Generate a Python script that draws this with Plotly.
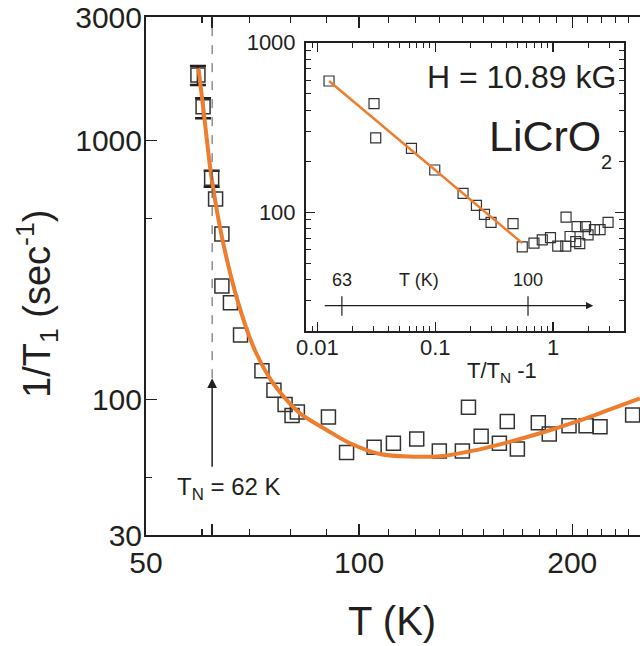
import math
import plotly.graph_objects as go

# ---------------- data ----------------
T_main = [59.2, 60.2, 61.9, 62.7, 64.0, 64.0, 65.8, 68.0, 72.9, 75.8, 78.6, 80.4, 81.8,
          90.5, 96.0, 105.0, 111.8, 120.6, 129.8, 139.9, 142.7, 148.7, 157.8, 161.9,
          167.3, 179.1, 185.6, 197.9, 209.2, 218.9, 243.4]
R_main = [1792, 1351, 715, 595, 436, 274.5, 236.5, 177.5, 129.3, 108.6, 95.7, 86.8, 89.6,
          85.6, 62.4, 65.4, 67.8, 70.4, 63.3, 63.3, 93.4, 72.1, 67.8, 82.3,
          64.5, 81.4, 73.6, 79.2, 79.2, 78.6, 87.2]
err_plus = [148, 106, 50]
err_minus = [153, 132, 51]

T_fit = [59.3, 60.2, 60.8, 61.9, 64.0, 67.2, 70.9, 74.8, 79.0, 82.5, 90.0, 97.1, 107.0,
         119.3, 130.1, 145.0, 161.6, 180.1, 200.7, 223.7, 249.2]
R_fit = [1901, 1351, 1067, 715, 425, 246, 160, 120.8, 99.6, 88.5, 76.3, 67.8, 61.6,
         60.2, 60.4, 63.5, 68.2, 74.1, 81.4, 90.6, 101.1]

x_in = [0.01255, 0.03023, 0.03125, 0.06281, 0.09904, 0.1722, 0.2237, 0.2617, 0.2977,
        0.4574, 0.5477, 0.6884, 0.8096, 0.9504, 1.096, 1.282, 1.289, 1.394, 1.558,
        1.598, 1.685, 1.887, 1.982, 2.246, 2.506, 2.930]
y_in = [594.5, 437.6, 274.7, 237.9, 177.4, 129.3, 109.6, 97.1, 87.1,
        85.7, 62.5, 65.7, 68.7, 70.9, 63.1, 63.1, 93.6, 71.9, 67.1,
        82.3, 65.3, 82.3, 73.5, 79.0, 79.0, 87.1]
x_in_fit = [0.01255, 0.5477]
y_in_fit = [594.5, 65.7]

TN = 62
T_scale_labels = [63, 100]

main_x_major = [50, 62, 100, 200]
main_x_major_text = ["50", "", "100", "200"]
main_x_minor = [60, 70, 80, 90, 110, 120, 130, 140, 150, 160, 170, 180, 190, 210, 220, 230, 240]
main_y_major = [30, 100, 1000, 3000]
main_y_minor = [50, 500]
in_x_major = [0.01, 0.1, 1]
in_x_minor = [0.009] + [k * 0.01 for k in range(2, 10)] + [k * 0.1 for k in range(2, 10)] + [2, 3, 4]
in_y_major = [100, 1000]
in_y_minor = [k * 10 for k in range(2, 10)] + [k * 100 for k in range(2, 10)]

# ---------------- style ----------------
FONT = "Liberation Sans, Arial, sans-serif"
INK = "#231F20"
ORANGE = "#EE7D2E"
W, H = 640, 646
L, R, T, B = 146, 0, 17, 111
PW, PH = W - L - R, H - T - B


def px2paper_x(px):
    return (px - L) / PW


def px2paper_y(py):
    return (H - B - py) / PH


fig = go.Figure()

# main data
fig.add_trace(go.Scatter(
    x=T_main[3:], y=R_main[3:], mode="markers",
    marker=dict(symbol="square-open", size=14, color="#333333", line=dict(width=1.5)),
    xaxis="x", yaxis="y", showlegend=False))
fig.add_trace(go.Scatter(
    x=T_main[:3], y=R_main[:3], mode="markers",
    marker=dict(symbol="square-open", size=14, color="#333333", line=dict(width=1.5)),
    error_y=dict(type="data", symmetric=False, array=err_plus, arrayminus=err_minus,
                 color=INK, thickness=2.5, width=8),
    xaxis="x", yaxis="y", showlegend=False))
fig.add_trace(go.Scatter(
    x=T_fit, y=R_fit, mode="lines", line=dict(color=ORANGE, width=4, shape="spline"),
    xaxis="x", yaxis="y", showlegend=False))

# inset data
fig.add_trace(go.Scatter(
    x=x_in, y=y_in, mode="markers",
    marker=dict(symbol="square-open", size=10, color="#333333", line=dict(width=1.2)),
    xaxis="x2", yaxis="y2", showlegend=False))
fig.add_trace(go.Scatter(
    x=x_in_fit, y=y_in_fit, mode="lines", line=dict(color=ORANGE, width=2.5),
    xaxis="x2", yaxis="y2", showlegend=False))

axis_common = dict(type="log", showgrid=False, zeroline=False, showline=True,
                   linecolor=INK, tickcolor=INK, ticks="inside")

fig.update_layout(
    width=W, height=H,
    margin=dict(l=L, r=R, t=T, b=B, pad=0),
    paper_bgcolor="white", plot_bgcolor="white",
    font=dict(family=FONT, color=INK),
    hovermode=False,
    xaxis=dict(**axis_common, domain=[0, 1],
               range=[math.log10(50), math.log10(249.3)],
               linewidth=2, tickwidth=1.5, ticklen=11, mirror="ticks",
               tickmode="array", tickvals=main_x_major, ticktext=main_x_major_text,
               tickfont=dict(size=30, color=INK), ticklabelstandoff=0,
               minor=dict(tickmode="array", tickvals=main_x_minor, ticklen=6,
                          ticks="inside", tickcolor=INK, tickwidth=1.2)),
    yaxis=dict(**axis_common, domain=[0, 1],
               range=[math.log10(30), math.log10(3000)],
               linewidth=2, tickwidth=1.5, ticklen=11, mirror=False,
               tickmode="array", tickvals=main_y_major,
               ticktext=[str(v) for v in main_y_major],
               tickfont=dict(size=30, color=INK), ticklabelstandoff=-4,
               minor=dict(tickmode="array", tickvals=main_y_minor, ticklen=6,
                          ticks="inside", tickcolor=INK, tickwidth=1.2)),
    xaxis2=dict(**axis_common, anchor="y2",
                domain=[px2paper_x(306), px2paper_x(624)],
                range=[math.log10(0.008), math.log10(4.0)],
                linewidth=2, tickwidth=1.3, ticklen=9, mirror="ticks",
                tickmode="array", tickvals=in_x_major,
                ticktext=["0.01", "0.1", "1"],
                tickfont=dict(size=22, color=INK), ticklabelstandoff=-4,
                minor=dict(tickmode="array", tickvals=in_x_minor, ticklen=5,
                           ticks="inside", tickcolor=INK, tickwidth=1)),
    yaxis2=dict(**axis_common, anchor="x2",
                domain=[px2paper_y(330.7), px2paper_y(42.7)],
                range=[math.log10(20), math.log10(1000)],
                linewidth=2, tickwidth=1.3, ticklen=9, mirror="ticks",
                tickmode="array", tickvals=in_y_major,
                ticktext=["100", "1000"],
                tickfont=dict(size=22, color=INK), ticklabelstandoff=4,
                minor=dict(tickmode="array", tickvals=in_y_minor, ticklen=5,
                           ticks="inside", tickcolor=INK, tickwidth=1)),
)

# T_N dashed line and arrow (main) -- shapes on log axes take data values
tip_val = 121
fig.add_shape(type="line", xref="x", yref="y",
              x0=TN, x1=TN, y0=tip_val, y1=3000,
              line=dict(color="#555555", width=1, dash="dash"))
fig.add_annotation(x=math.log10(TN), y=math.log10(tip_val), xref="x", yref="y",
                   text="", showarrow=True, ax=0, ay=90, axref="pixel", ayref="pixel",
                   arrowhead=2, arrowsize=1.3, arrowwidth=1.5, arrowcolor=INK)
fig.add_annotation(x=px2paper_x(175), y=px2paper_y(488), xref="paper", yref="paper",
                   text="T<sub>N</sub> = 62 K", showarrow=False, xanchor="left",
                   yanchor="middle", font=dict(size=24, color=INK))

# inset secondary temperature scale
arrow_y = 28.1
fig.add_annotation(x=math.log10(2.19), y=math.log10(arrow_y), xref="x2", yref="y2",
                   ax=math.log10(0.0112), ay=math.log10(arrow_y), axref="x2", ayref="y2",
                   text="", showarrow=True, arrowhead=2, arrowsize=1.2,
                   arrowwidth=1.2, arrowcolor=INK)
for Tk in T_scale_labels:
    xv = Tk / TN - 1
    fig.add_shape(type="line", xref="x2", yref="y2", x0=xv, x1=xv,
                  y0=24.5, y1=31.9, line=dict(color=INK, width=1.2))
    fig.add_annotation(x=math.log10(xv), y=px2paper_y(280), xref="x2", yref="paper",
                       text=str(Tk), showarrow=False, xanchor="center", yanchor="middle",
                       font=dict(size=18, color=INK))
fig.add_annotation(x=px2paper_x(418.5), y=px2paper_y(280), xref="paper", yref="paper",
                   text="T (K)", showarrow=False, xanchor="center", yanchor="middle",
                   font=dict(size=18, color=INK))

# inset texts
fig.add_annotation(x=px2paper_x(618), y=px2paper_y(76.5), xref="paper", yref="paper",
                   text="H = 10.89 kG", showarrow=False, xanchor="right", yanchor="middle",
                   font=dict(size=32, color=INK))
fig.add_annotation(x=px2paper_x(603), y=px2paper_y(135.8), xref="paper", yref="paper",
                   text="LiCrO", showarrow=False, xanchor="right", yanchor="middle",
                   font=dict(size=43, color=INK))
fig.add_annotation(x=px2paper_x(606.5), y=px2paper_y(161.7), xref="paper", yref="paper",
                   text="2", showarrow=False, xanchor="center", yanchor="middle",
                   font=dict(size=20, color=INK))
fig.add_annotation(x=px2paper_x(501.7), y=px2paper_y(372), xref="paper", yref="paper",
                   text="T/T<sub>N</sub> -1", showarrow=False, xanchor="center",
                   yanchor="middle", font=dict(size=22, color=INK))

# axis titles
fig.add_annotation(x=px2paper_x(391.5), y=px2paper_y(621), xref="paper", yref="paper",
                   text="T (K)", showarrow=False, xanchor="center", yanchor="middle",
                   font=dict(size=40, color=INK))
fig.add_annotation(x=px2paper_x(37), y=px2paper_y(304), xref="paper", yref="paper",
                   text="1/T<sub>1</sub> (sec<sup>-1</sup>)", showarrow=False, textangle=-90,
                   xanchor="center", yanchor="middle",
                   font=dict(size=38, color=INK))

fig.write_html("out.html", post_script="document.body.style.margin='0';",
               config={"displayModeBar": False, "staticPlot": True})
